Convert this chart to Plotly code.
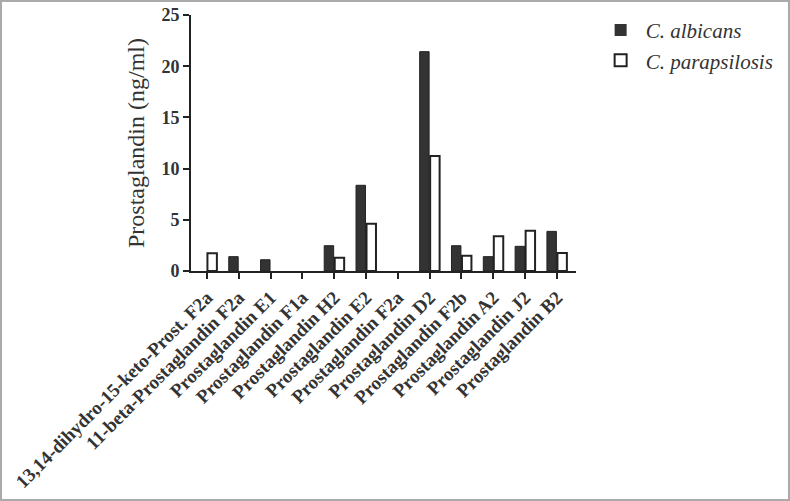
import plotly.graph_objects as go

categories = [
    "13,14-dihydro-15-keto-Prost. F2a",
    "11-beta-Prostaglandin F2a",
    "Prostaglandin E1",
    "Prostaglandin F1a",
    "Prostaglandin H2",
    "Prostaglandin E2",
    "Prostaglandin F2a",
    "Prostaglandin D2",
    "Prostaglandin F2b",
    "Prostaglandin A2",
    "Prostaglandin J2",
    "Prostaglandin B2",
]
albicans = [0, 1.4, 1.1, 0, 2.47, 8.37, 0, 21.42, 2.47, 1.4, 2.41, 3.87]
parapsilosis = [1.73, 0, 0, 0, 1.3, 4.62, 0, 11.23, 1.5, 3.39, 3.94, 1.76]
y_ticks = [0, 5, 10, 15, 20, 25]

W, H = 790, 501
ml, mr, mt, mb = 191, 214, 15, 230
pw, ph = W - ml - mr, H - mt - mb

xs = list(range(len(categories)))
fig = go.Figure()
fig.add_trace(go.Bar(
    x=xs, y=albicans, name="<i>C. albicans</i>",
    marker=dict(color="#333333",
                line=dict(color="#222222", width=[1 if v > 0 else 0 for v in albicans])),
))
fig.add_trace(go.Bar(
    x=xs, y=parapsilosis, name="<i>C. parapsilosis</i>",
    marker=dict(color="white",
                line=dict(color="#222222", width=[2 if v > 0 else 0 for v in parapsilosis])),
))

font_family = "Liberation Serif"
fig.update_layout(
    width=W, height=H,
    margin=dict(l=ml, r=mr, t=mt, b=mb, autoexpand=False),
    paper_bgcolor="white", plot_bgcolor="white",
    barmode="group", bargap=0.34, bargroupgap=0.1,
    font=dict(family=font_family, color="#333333"),
    showlegend=True,
    legend=dict(
        x=1.051, y=1.02, xanchor="left", yanchor="top",
        font=dict(family=font_family, size=21, color="#333333"),
        bgcolor="rgba(0,0,0,0)", itemwidth=40, tracegroupgap=0,
    ),
    xaxis=dict(
        tickmode="array", tickvals=xs,
        ticktext=["<b>%s</b>" % c for c in categories],
        tickangle=-45, range=[-0.5, 11.6], automargin=False,
        showline=True, linecolor="#222222", linewidth=2,
        ticks="outside", ticklen=6, tickwidth=2, tickcolor="#222222",
        showgrid=False, zeroline=False,
        tickfont=dict(family=font_family, size=19, color="#333333"),
    ),
    yaxis=dict(
        range=[0, 25], tickvals=y_ticks, automargin=False,
        ticktext=["<b>%d</b>" % v for v in y_ticks],
        showline=True, linecolor="#222222", linewidth=2,
        ticks="outside", ticklen=6, tickwidth=2, tickcolor="#222222",
        showgrid=False, zeroline=False,
        tickfont=dict(family=font_family, size=18, color="#333333"),
        title=dict(text="Prostaglandin (ng/ml)", standoff=10,
                   font=dict(family=font_family, size=24, color="#333333")),
    ),
)

fig.add_shape(
    type="rect", xref="paper", yref="paper",
    x0=(1 - ml) / pw, x1=(W - 1 - ml) / pw,
    y0=-(mb - 1) / ph, y1=(H - mb - 1) / ph,
    line=dict(color="#aaaaaa", width=2), fillcolor="rgba(0,0,0,0)", layer="below",
)

fig.write_html("out.html", config={"displayModeBar": False},
               post_script="document.body.style.margin='0px';")
